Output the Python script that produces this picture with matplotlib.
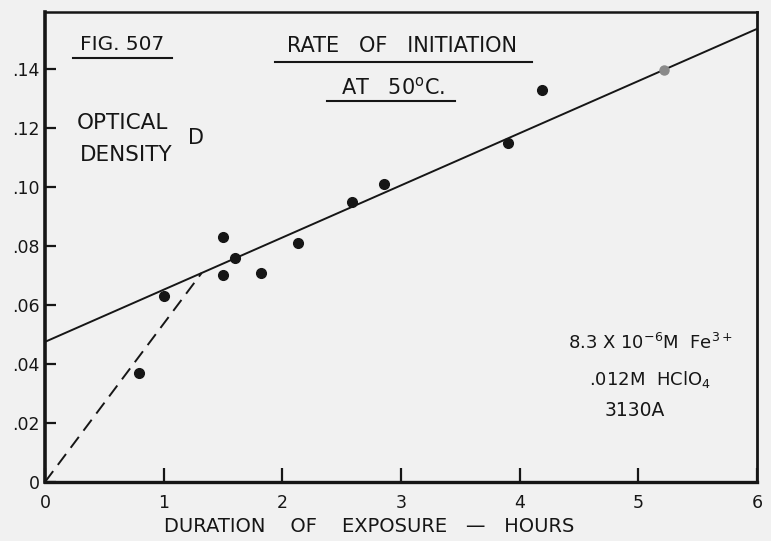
import numpy as np
import matplotlib
matplotlib.use("Agg")
import matplotlib.pyplot as plt

# Measured optical density vs. exposure time
hours = [0.79, 1.0, 1.5, 1.5, 1.6, 1.82, 2.13, 2.59, 2.86, 3.9, 4.19]
density = [0.037, 0.063, 0.083, 0.070, 0.076, 0.071, 0.081, 0.095, 0.101, 0.115, 0.133]
# point lying on the fitted line
hours_line_pt = [5.22]
density_line_pt = [0.1395]

# Fitted straight line: intercept and slope
fit_intercept = 0.0475
fit_slope = 0.01768
# Initial-rate dashed line from origin
dash_end_hours = 1.32

x_ticks = [0, 1, 2, 3, 4, 5, 6]
x_tick_labels = ["0", "1", "2", "3", "4", "5", "6"]
y_ticks = [0, 0.02, 0.04, 0.06, 0.08, 0.10, 0.12, 0.14]
y_tick_labels = ["0", ".02", ".04", ".06", ".08", ".10", ".12", ".14"]

INK = "#161616"
BG = "#f1f1f1"

plt.rcParams["font.family"] = ["DejaVu Sans"]

fig = plt.figure(figsize=(7.71, 5.41), dpi=100, facecolor=BG)
ax = fig.add_axes([45 / 771, 1 - 482 / 541, (757 - 45) / 771, (482 - 12) / 541])
ax.set_facecolor(BG)

ax.set_xlim(0, 6)
ax.set_ylim(0, 0.1593)

# fitted line
xs = np.array([0, 6])
ax.plot(xs, fit_intercept + fit_slope * xs, color=INK, lw=1.4, zorder=2)
# dashed initial line
ax.plot([0, dash_end_hours], [0, fit_intercept + fit_slope * dash_end_hours],
        color=INK, lw=1.4, dashes=(7, 4), zorder=2)

ax.plot(hours, density, "o", color=INK, ms=7, zorder=3)
ax.plot(hours_line_pt, density_line_pt, "o", color="#8a8a8a", ms=6.5, zorder=3)

# frame
for side, lw in [("left", 2.6), ("bottom", 2.4), ("top", 1.8), ("right", 2.0)]:
    ax.spines[side].set_linewidth(lw)
    ax.spines[side].set_color(INK)

ax.set_xticks(x_ticks)
ax.set_xticklabels(x_tick_labels)
ax.set_yticks(y_ticks)
ax.set_yticklabels(y_tick_labels)
ax.tick_params(axis="x", direction="in", length=10, width=1.6, color=INK,
               labelsize=12.5, pad=9, labelcolor=INK)
ax.tick_params(axis="y", direction="in", length=8, width=1.6, color=INK,
               labelsize=12.5, pad=4, labelcolor=INK)
ax.tick_params(axis="x", top=False)
ax.tick_params(axis="y", right=False)

fig.text(369 / 771, 1 - 527 / 541, "DURATION    OF    EXPOSURE   —   HOURS",
         ha="center", va="center", fontsize=14, color=INK)

def fig_xy(px, py):
    return px / 771, 1 - py / 541

def underline(x0, x1, y, lw=1.5):
    fig.add_artist(plt.Line2D([x0 / 771, x1 / 771], [1 - y / 541, 1 - y / 541],
                              color=INK, lw=lw))

# figure label
fig.text(*fig_xy(122, 44), "FIG. 507", ha="center", va="center", fontsize=14.5, color=INK)
underline(73, 172, 58)

# title
fig.text(*fig_xy(402, 46), "RATE   OF   INITIATION", ha="center", va="center",
         fontsize=15, color=INK)
underline(275, 532, 62)
fig.text(*fig_xy(393, 87), "AT   50$^{\\mathrm{o}}$C.", ha="center", va="center",
         fontsize=15, color=INK)
underline(327, 455, 101)

# y-axis description
fig.text(*fig_xy(77, 123), "OPTICAL", ha="left", va="center", fontsize=15.5, color=INK)
fig.text(*fig_xy(80, 155), "DENSITY", ha="left", va="center", fontsize=15.5, color=INK)
fig.text(*fig_xy(196, 138), "D", ha="center", va="center", fontsize=15, color=INK)

# experimental conditions
fig.text(*fig_xy(650, 343), "8.3 X 10$^{-6}$M  Fe$^{3+}$", ha="center", va="center",
         fontsize=13, color=INK)
fig.text(*fig_xy(650, 380), ".012M  HClO$_4$", ha="center", va="center",
         fontsize=13, color=INK)
fig.text(*fig_xy(635, 410), "3130A", ha="center", va="center",
         fontsize=13.5, color=INK)

fig.savefig("out.png", dpi=100, facecolor=BG)
